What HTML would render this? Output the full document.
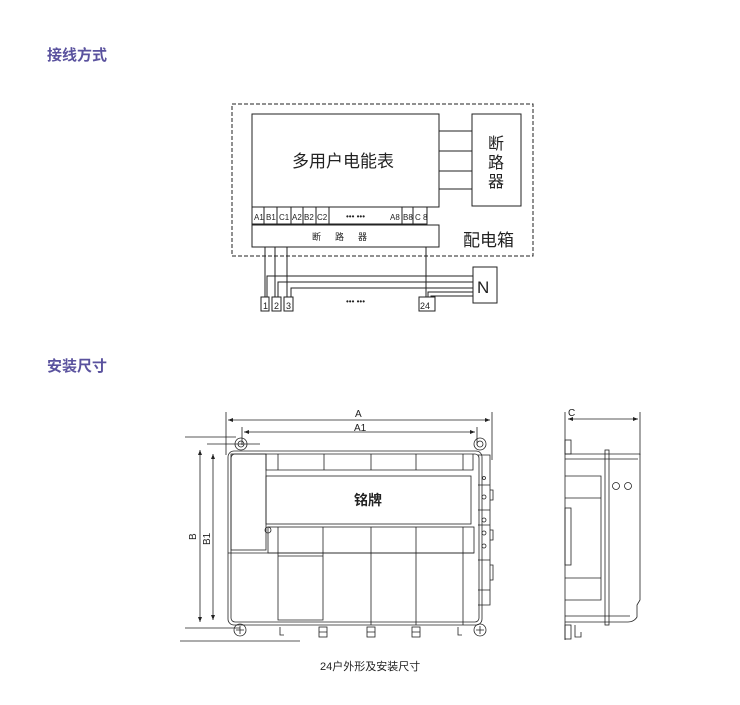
<!DOCTYPE html>
<html><head><meta charset="utf-8"><style>
html,body{margin:0;padding:0;background:#fff;}
svg{display:block;font-family:"Liberation Sans","Noto Sans CJK SC",sans-serif;}
</style></head><body>
<svg width="740" height="705" viewBox="0 0 740 705" xmlns="http://www.w3.org/2000/svg">
<g font-weight="bold" fill="#5a529e" font-size="15">
<text x="47" y="60">接线方式</text>
<text x="47" y="371">安装尺寸</text>
</g>
<g fill="none" stroke="#222" stroke-width="1">
<rect x="232" y="104" width="301" height="152" stroke-dasharray="4,2"/>
<rect x="252" y="114" width="187" height="93"/>
<rect x="472" y="114" width="49" height="92"/>
<path d="M439 131H472M439 151H472M439 171H472M439 189H472"/>
<path d="M252 207V224H427V207M264 207V224M277 207V224M291 207V224M303 207V224M316 207V224M329 207V224M402 207V224M413 207V224"/>
<rect x="252" y="225" width="187" height="22"/>
<path d="M265 247V297M275 247V297M287 247V297M426 247V297"/>
<path d="M267 297V276H473M278 297V282H473M291 297V288H473M428 297V292H473M431 297V296H473"/>
<rect x="473" y="267" width="24" height="36"/>
<rect x="261" y="297" width="8" height="14"/><rect x="272" y="297" width="9" height="14"/><rect x="284" y="297" width="9" height="14"/><rect x="419" y="297" width="16" height="14"/>
</g>
<g fill="#222">
<text x="292" y="167" font-size="17">多用户电能表</text>
<g font-size="16"><text x="488" y="149">断</text><text x="488" y="168">路</text><text x="488" y="187">器</text></g>
<text x="463" y="246" font-size="17">配电箱</text>
<g font-size="8"><text x="254" y="220">A1</text><text x="266" y="220">B1</text><text x="279" y="220">C1</text><text x="292" y="220">A2</text><text x="304" y="220">B2</text><text x="317" y="220">C2</text><text x="346" y="219">••• •••</text><text x="390" y="220">A8</text><text x="403" y="220">B8</text><text x="415" y="220">C 8</text></g>
<text x="312" y="240" font-size="9" letter-spacing="14">断路器</text>
<text x="477" y="293" font-size="17">N</text>
<g font-size="9"><text x="263" y="309">1</text><text x="274" y="309">2</text><text x="286" y="309">3</text><text x="420" y="309">24</text></g>
<text x="346" y="304" font-size="8">••• •••</text>
<text x="355" y="417" font-size="10">A</text>
<text x="354" y="431" font-size="10">A1</text>
<text x="568" y="416" font-size="10">C</text>
<text transform="translate(196,540) rotate(-90)" font-size="10">B</text>
<text transform="translate(210,545) rotate(-90)" font-size="10">B1</text>
<text x="354" y="505" font-size="14" font-weight="bold">铭牌</text>
<text x="320" y="670" font-size="11">24户外形及安装尺寸</text>
</g>
<g fill="none" stroke="#222" stroke-width="0.8">
<path d="M226 412V455M492 412V460M242 427V445M477 427V445"/>
<path d="M228 420H490M244 432H475"/>
<path d="M185 437H236M207 444H260M185 628H240M180 641H300"/>
<path d="M200 450V622M213 454V620"/>
<rect x="228" y="451" width="254" height="174" rx="6"/>
<rect x="231" y="454" width="248" height="168" rx="4"/>
<rect x="231" y="454" width="35" height="96"/>
<path d="M266 454V470H473V454M278 454V470M324 454V470M371 454V470M416 454V470M463 454V470"/>
<rect x="266" y="476" width="205" height="48"/>
<rect x="268" y="527" width="206" height="26"/>
<path d="M278 527V620H323V527M228 553H474M371 527V625M416 527V625M463 527V625M278 556H323"/>
<circle cx="268" cy="530" r="3"/>
<circle cx="241" cy="444" r="6"/><circle cx="241" cy="444" r="3"/>
<circle cx="480" cy="444" r="6"/><circle cx="480" cy="444" r="3"/>
<circle cx="240" cy="630" r="6"/><circle cx="480" cy="630" r="6"/>
<path d="M236 630H244M240 626V634M476 630H484M480 626V634"/>
<g><rect x="319" y="627" width="8" height="10"/><rect x="367" y="627" width="8" height="10"/><rect x="412" y="627" width="8" height="10"/><path d="M280 627v8h4M458 627v8h4M319 632h8M367 632h8M412 632h8"/></g>
<path d="M478 455H490V605H478M478 485H490M478 510H490M478 525H490M478 560H490M478 590H490"/>
<path d="M490 490h3v10h-3M490 530h3v10h-3M490 565h3v15h-3"/>
<circle cx="484" cy="478" r="1.5"/><circle cx="484" cy="497" r="2"/><circle cx="484" cy="520" r="2"/><circle cx="484" cy="533" r="2"/><circle cx="484" cy="546" r="2"/>
<path d="M565 412V640M640 412V455"/>
<path d="M568 419H638"/>
<path d="M565 454H640V600L637 605V617Q634 622 628 622H565"/>
<path d="M565 459H638M565 616H630"/>
<rect x="605" y="450" width="4" height="175"/>
<path d="M565 476H601V600H565M565 498H601M565 578H601M601 476V600"/>
<rect x="565" y="508" width="6" height="57"/>
<rect x="565" y="440" width="6" height="14"/><rect x="565" y="625" width="6" height="14"/><path d="M575 625v12h6v-5"/>
<circle cx="616" cy="486" r="3.5"/><circle cx="628" cy="486" r="3.5"/>
</g>
<g fill="#222">
<path d="M228 420l5-2v4zM490 420l-5-2v4zM244 432l5-2v4zM475 432l-5-2v4zM568 419l5-2v4zM638 419l-5-2v4zM200 450l-2 5h4zM200 622l-2-5h4zM213 454l-2 5h4zM213 620l-2-5h4z"/>
</g>
</svg>
</body></html>
